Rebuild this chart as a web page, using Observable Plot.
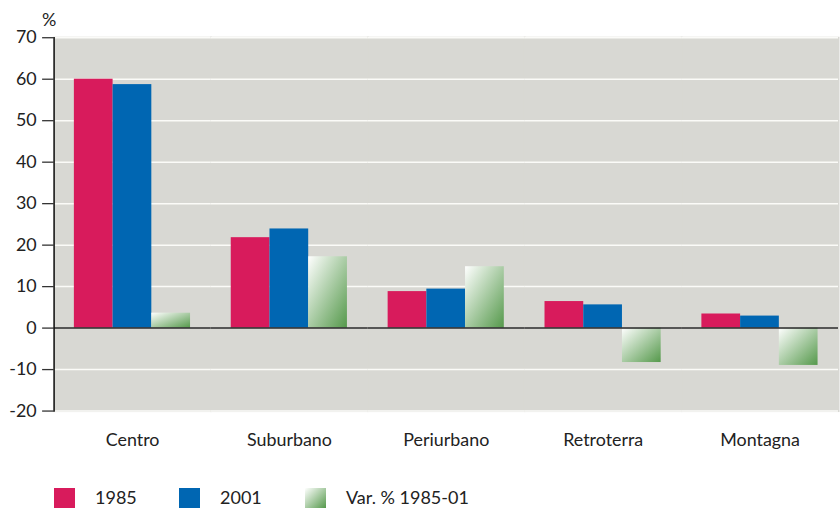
<!DOCTYPE html>
<html>
<head>
<meta charset="utf-8">
<script src="https://cdn.jsdelivr.net/npm/d3@7"></script>
<script src="https://cdn.jsdelivr.net/npm/@observablehq/plot@0.6"></script>
<style>
  html, body { margin: 0; padding: 0; background: #fff; }
  #wrap { width: 840px; height: 508px; overflow: hidden; position: relative; font-family: Lato, "Open Sans", sans-serif; }
  #chart { width: 840px; height: 460px; overflow: hidden; }
  #legend { position: relative; width: 840px; height: 48px; }
  .sw { position: absolute; top: 28px; width: 21px; height: 20px; }
  .lt { position: absolute; top: 28px; font-size: 18px; line-height: 18px; color: #222; white-space: nowrap; }
</style>
</head>
<body>
<div id="wrap">
  <div id="chart"></div>
  <div id="legend"></div>
</div>
<script>
const categories = ["Centro", "Suburbano", "Periurbano", "Retroterra", "Montagna"];
const series = ["1985", "2001", "Var. % 1985-01"];
const v1985 = [60, 21.8, 8.8, 6.4, 3.4];
const v2001 = [58.7, 23.9, 9.4, 5.6, 2.9];
const varPct = [3.6, 17.2, 14.8, -8.3, -9.0];
const yTicks = [-20, -10, 0, 10, 20, 30, 40, 50, 60, 70];
const colors = ["#d81b5c", "#0066b2", "url(#varGrad)"];

const data = categories.flatMap((c, i) => [
  {cat: c, s: series[0], v: v1985[i]},
  {cat: c, s: series[1], v: v2001[i]},
  {cat: c, s: series[2], v: varPct[i]}
]);

const bg = "#d8d8d3";

const chart = Plot.plot({
  width: 846,
  height: 460,
  marginLeft: 52.6,
  marginRight: 0,
  marginTop: 37.5,
  marginBottom: 46.5,
  style: {fontFamily: "Lato, 'Open Sans', sans-serif", fontSize: "18px", color: "#222", background: "transparent", overflow: "hidden"},
  fx: {domain: categories, padding: 0, label: null},
  x: {domain: series, paddingInner: 0, paddingOuter: 0.484, axis: null},
  y: {domain: [-20, 70], label: null},
  color: {domain: series, range: colors},
  marks: [
    Plot.frame({fill: bg, stroke: bg, strokeWidth: 2}),
    Plot.gridY(yTicks, {stroke: "#fbfbf8", strokeOpacity: 1, strokeWidth: 1.5}),
    Plot.barY(data, {fx: "cat", x: "s", y: "v", fill: "s"}),
    Plot.ruleY([0], {stroke: "#222", strokeWidth: 1.5}),
    Plot.axisY(yTicks, {tickSize: 11.6, tickPadding: 6, fontSize: 18, label: null, stroke: "#333", strokeWidth: 1.3, tickFormat: d => String(d)}),
    Plot.frame({anchor: "left", facetAnchor: "left", stroke: "#111", strokeWidth: 1.5}),
    Plot.axisFx({anchor: "bottom", tickSize: 0, tickPadding: 22, fontSize: 18, label: null}),
    Plot.text(["%"], {fx: [categories[0]], text: d => d, frameAnchor: "top-left", textAnchor: "middle", lineAnchor: "middle", dx: -5, dy: -18, fontSize: 18})
  ]
});

const svg = d3.select(chart.tagName.toLowerCase() === "svg" ? chart : chart.querySelector("svg"));
const grad = svg.append("defs").append("linearGradient")
  .attr("id", "varGrad").attr("x1", "0").attr("y1", "0").attr("x2", "1").attr("y2", "1");
grad.append("stop").attr("offset", "0%").attr("stop-color", "#ffffff");
grad.append("stop").attr("offset", "100%").attr("stop-color", "#55994b");

document.getElementById("chart").appendChild(chart);

const legend = document.getElementById("legend");
const swLeft = [54, 179, 305];
const txLeft = [95, 220, 346];
series.forEach((s, i) => {
  const sw = document.createElement("div");
  sw.className = "sw";
  sw.style.left = swLeft[i] + "px";
  sw.style.background = i === 2 ? "linear-gradient(135deg, #ffffff, #55994b)" : colors[i];
  legend.appendChild(sw);
  const t = document.createElement("div");
  t.className = "lt";
  t.style.left = txLeft[i] + "px";
  t.textContent = s;
  legend.appendChild(t);
});
</script>
</body>
</html>
